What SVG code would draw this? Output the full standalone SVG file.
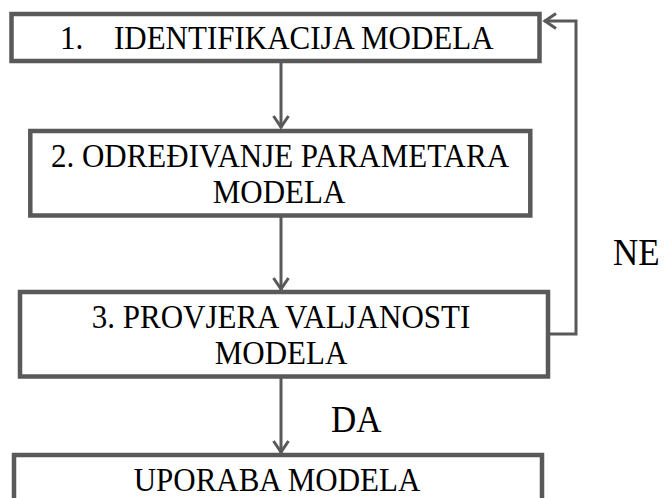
<svg xmlns="http://www.w3.org/2000/svg" width="670" height="498" viewBox="0 0 670 498">
<defs>
<style>
.box{fill:#fff;stroke:#595959;stroke-width:4.5}
.con{fill:none;stroke:#595959;stroke-width:3}
.t{font-family:"Liberation Serif","Times New Roman",serif;font-size:31px;fill:#000}
.big{font-size:35px}
.m{text-anchor:middle}
</style>
<marker id="ah" markerUnits="userSpaceOnUse" markerWidth="24" markerHeight="24" viewBox="-18 -12 24 24" refX="0" refY="0" orient="auto">
<path d="M-12,-7.5 L-1,0 L-12,7.5" fill="none" stroke="#595959" stroke-width="3"/>
</marker>
</defs>
<rect width="670" height="498" fill="#fff"/>
<g id="connectors">
<line class="con" x1="281" y1="62" x2="281" y2="128" marker-end="url(#ah)"/>
<line class="con" x1="281" y1="217" x2="281" y2="290" marker-end="url(#ah)"/>
<line class="con" x1="281" y1="378" x2="281" y2="453" marker-end="url(#ah)"/>
<polyline class="con" points="550,334 576,334 576,21 544,21" marker-end="url(#ah)"/>
<text class="t big" transform="translate(613,265) scale(1,1.08)">NE</text>
<text class="t big" transform="translate(331,432) scale(1,1.08)">DA</text>
</g>
<g id="node1">
<rect class="box" x="11.5" y="14" width="528" height="47"/>
<text class="t" transform="translate(60,49) scale(1,1.08)">1.</text>
<text class="t" transform="translate(114,49) scale(1,1.08)">IDENTIFIKACIJA MODELA</text>
</g>
<g id="node2">
<rect class="box" x="30.3" y="131" width="500" height="84.5"/>
<text class="t m" transform="translate(280,167) scale(1,1.08)">2. ODREĐIVANJE PARAMETARA</text>
<text class="t m" transform="translate(279,203) scale(1,1.08)">MODELA</text>
</g>
<g id="node3">
<rect class="box" x="20" y="292" width="528" height="84.5"/>
<text class="t m" transform="translate(281,328) scale(1,1.08)">3. PROVJERA VALJANOSTI</text>
<text class="t m" transform="translate(281,364) scale(1,1.08)">MODELA</text>
</g>
<g id="node4">
<rect class="box" x="14" y="455" width="528" height="60"/>
<text class="t m" transform="translate(277,491) scale(1,1.08)">UPORABA MODELA</text>
</g>
</svg>
